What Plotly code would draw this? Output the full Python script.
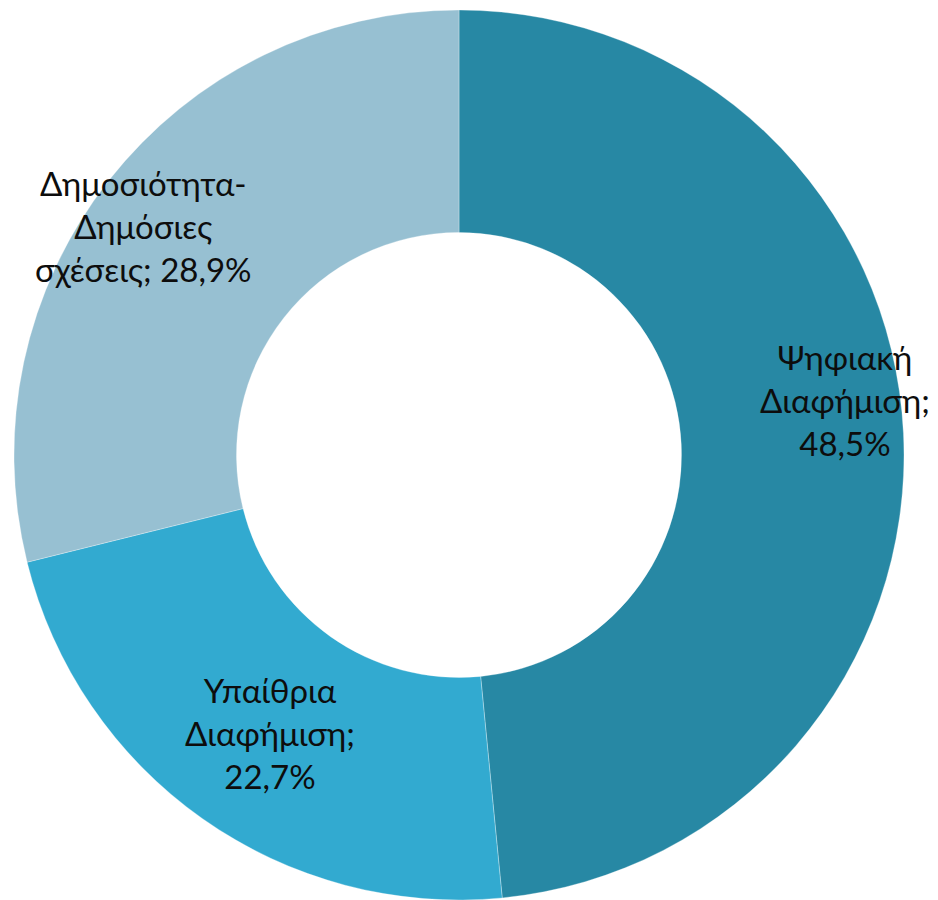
import plotly.graph_objects as go

labels = ["Ψηφιακή Διαφήμιση", "Υπαίθρια Διαφήμιση", "Δημοσιότητα-Δημόσιες σχέσεις"]
values = [48.5, 22.7, 28.9]
wrapped = ["Ψηφιακή<br>Διαφήμιση;<br>{v}", "Υπαίθρια<br>Διαφήμιση;<br>{v}", "Δημοσιότητα-<br>Δημόσιες<br>σχέσεις; {v}"]
colors = ["#2788a4", "#32aad0", "#97c0d2"]

W, H = 938, 900
label_px = [(845, 400), (270, 733), (143, 226)]

fig = go.Figure(go.Pie(
    labels=labels, values=values, hole=0.5, sort=False, direction="clockwise",
    rotation=0, marker=dict(colors=colors, line=dict(color="rgba(255,255,255,0.3)", width=1)),
    textinfo="none", hoverinfo="label+percent", showlegend=False,
    domain=dict(x=[14 / W, 904 / W], y=[0, 1 - 10 / H]),
))

for txt, v, (px, py) in zip(wrapped, values, label_px):
    fig.add_annotation(
        x=px / W, y=1 - py / H, xref="paper", yref="paper",
        text=txt.format(v=f"{v:.1f}".replace(".", ",") + "%"),
        showarrow=False, xanchor="center", yanchor="middle", align="center",
        font=dict(family="Lato, Open Sans, sans-serif", size=33, color="#0d0d0d"),
    )

fig.update_layout(width=W, height=H, margin=dict(l=0, r=0, t=0, b=0),
                  paper_bgcolor="white", plot_bgcolor="white")
fig.write_html("out.html")
